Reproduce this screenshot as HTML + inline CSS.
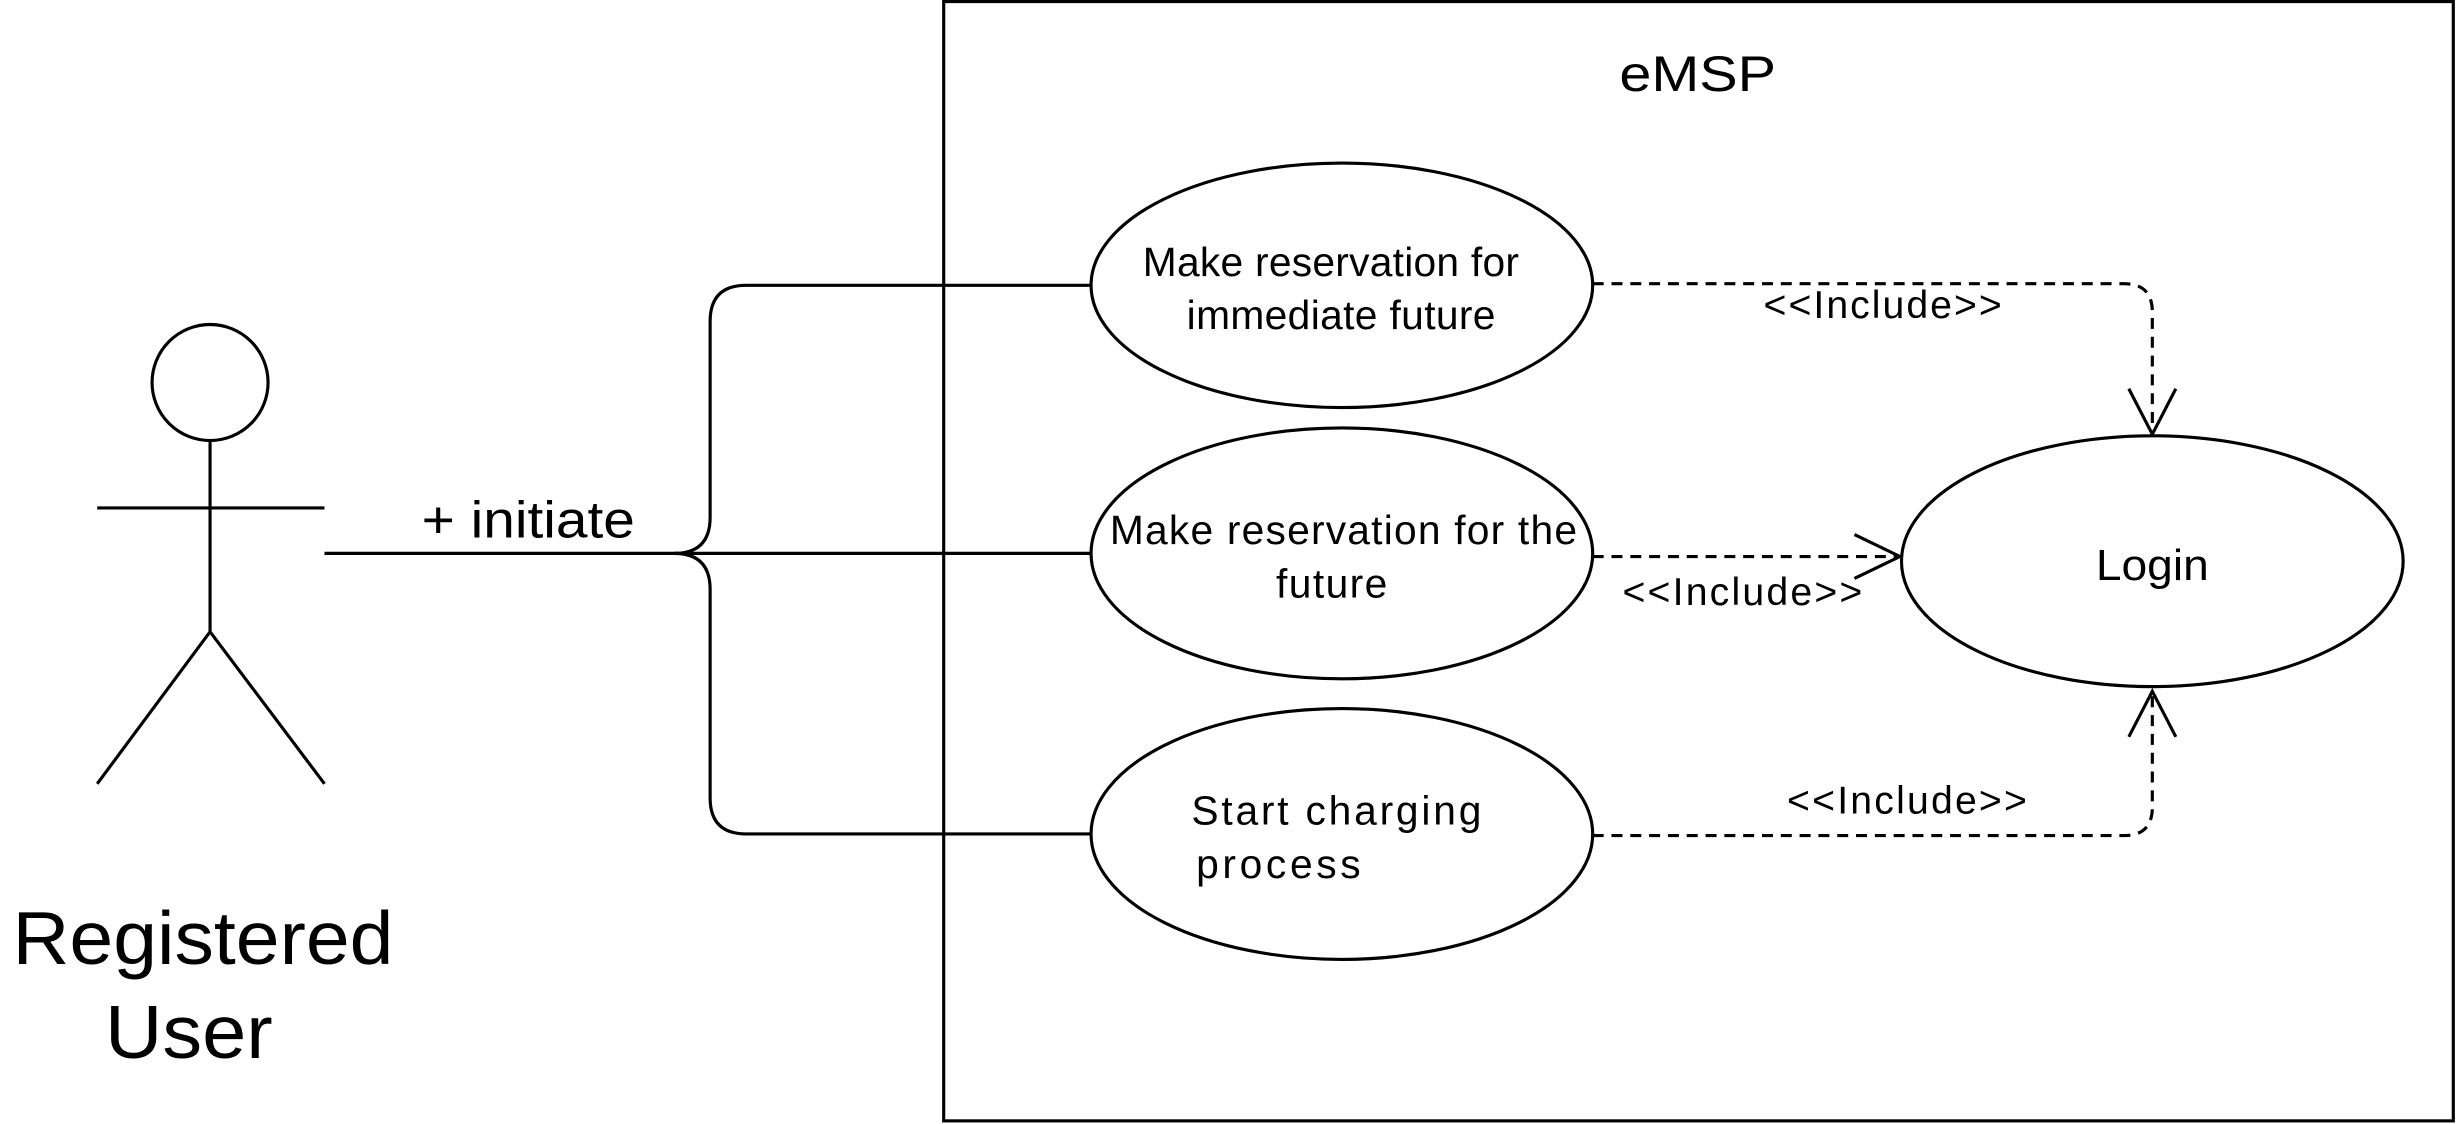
<!DOCTYPE html>
<html><head><meta charset="utf-8"><style>
html,body{margin:0;padding:0;background:#fff;}
svg{display:block;}
text{font-family:"Liberation Sans",sans-serif;fill:#000;}
</style></head><body>
<svg width="2458" height="1124" viewBox="0 0 1568 717" preserveAspectRatio="none" xmlns="http://www.w3.org/2000/svg">
<rect x="0" y="0" width="1568" height="717" fill="#fff"/>
<rect x="602" y="1" width="963" height="714" fill="none" stroke="#000" stroke-width="2"/>
<text x="1033" y="58" font-size="32" textLength="100" lengthAdjust="spacingAndGlyphs">eMSP</text>
<g stroke="#000" stroke-width="2" fill="none">
<circle cx="134" cy="244" r="37"/>
<line x1="134" y1="281" x2="134" y2="403"/>
<line x1="62" y1="324" x2="207" y2="324"/>
<line x1="134" y1="403" x2="62" y2="500"/>
<line x1="134" y1="403" x2="207" y2="500"/>
<path d="M207 353 L696 353"/>
<path d="M430 353 Q453 353 453 330 L453 205 Q453 182 476 182 L696 182"/>
<path d="M430 353 Q453 353 453 376 L453 509 Q453 532 476 532 L696 532"/>
<ellipse cx="856" cy="182" rx="160" ry="78"/>
<ellipse cx="856" cy="353" rx="160" ry="80"/>
<ellipse cx="856" cy="532" rx="160" ry="80"/>
<ellipse cx="1373" cy="358" rx="160" ry="80"/>
</g>
<g stroke="#000" stroke-width="2" fill="none" stroke-dasharray="7,5">
<path d="M1016 181 L1355 181 Q1373 181 1373 199 L1373 277"/>
<path d="M1016 355 L1212 355"/>
<path d="M1016 533 L1355 533 Q1373 533 1373 515 L1373 441"/>
</g>
<g stroke="#000" stroke-width="2" fill="none">
<path d="M1358 248 L1373 277 L1388 248"/>
<path d="M1183 341 L1212 355 L1183 369"/>
<path d="M1358 470 L1373 441 L1388 470"/>
</g>
<text x="8" y="615" font-size="48" textLength="243" lengthAdjust="spacingAndGlyphs">Registered</text>
<text x="67" y="675" font-size="48" textLength="107" lengthAdjust="spacingAndGlyphs">User</text>
<text x="269" y="343" font-size="33" textLength="136" lengthAdjust="spacingAndGlyphs">+ initiate</text>
<g font-size="26" lengthAdjust="spacingAndGlyphs">
<text x="729" y="176" textLength="240">Make reservation for</text>
<text x="757" y="210" textLength="197">immediate future</text>
<text x="708" y="347" textLength="298">Make reservation for the</text>
<text x="814" y="381" textLength="71">future</text>
<text x="760" y="526" textLength="185">Start charging</text>
<text x="763" y="560" textLength="105">process</text>
</g>
<text x="1337" y="370" font-size="28" textLength="72" lengthAdjust="spacingAndGlyphs">Login</text>
<g font-size="25" lengthAdjust="spacingAndGlyphs">
<text x="1125" y="203" textLength="152">&lt;&lt;Include&gt;&gt;</text>
<text x="1035" y="386" textLength="153">&lt;&lt;Include&gt;&gt;</text>
<text x="1140" y="519" textLength="153">&lt;&lt;Include&gt;&gt;</text>
</g>
</svg>
</body></html>
